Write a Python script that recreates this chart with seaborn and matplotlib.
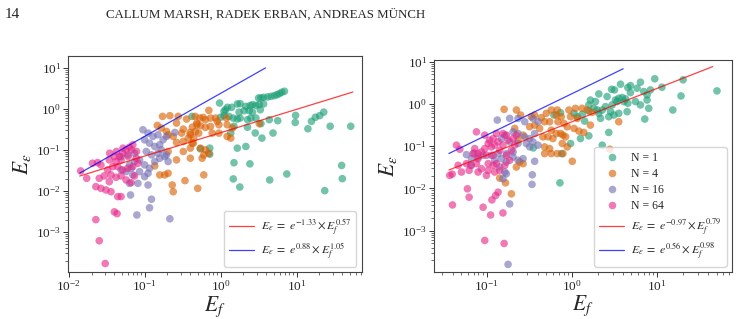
import numpy as np
import pandas as pd
import matplotlib
matplotlib.use("Agg")
import matplotlib.pyplot as plt
import seaborn as sns

# ---- data (E_f, E_eps) ----
groups = ["N = 1", "N = 4", "N = 16", "N = 64"]
colors = ["#1b9e77", "#d95f02", "#7570b3", "#e7298a"]

# left panel
left_n1_ef = [6.93, 6.39, 5.95, 5.54, 5.11, 4.61, 4.16, 3.68, 3.40, 3.16, 3.68, 3.23, 2.92, 2.63, 2.45, 2.15,
              1.81, 1.66, 1.40, 1.23, 1.16, 1.11, 0.97, 1.75, 2.04, 2.38, 2.63, 3.33, 9.70, 9.60, 5.65, 4.38,
              3.40, 2.92, 2.50, 2.26, 1.81, 1.66, 1.47, 1.29, 1.11, 1.00, 0.42, 22.8, 20.2, 17.7, 15.7, 14.1,
              27.7, 51.6, 2.86, 3.50, 4.90, 2.26, 1.50, 1.36, 1.66, 2.15, 1.50, 2.43, 1.47, 1.79, 4.43, 7.44,
              39.2, 40.0, 23.5, 0.54, 0.72, 0.72]
left_n1_ee = [2.71, 2.56, 2.37, 2.24, 2.12, 2.04, 1.97, 1.93, 1.86, 1.86, 1.33, 1.28, 1.23, 1.28, 1.21, 1.16,
              1.35, 1.33, 1.10, 1.10, 0.96, 0.88, 1.40, 0.84, 0.91, 0.91, 0.84, 0.96, 0.70, 0.47, 0.52, 0.55,
              0.44, 0.60, 0.60, 0.55, 0.60, 0.57, 0.60, 0.66, 0.69, 0.63, 0.66, 0.84, 0.69, 0.63, 0.50, 0.33,
              0.38, 0.38, 0.26, 0.195, 0.26, 0.36, 0.38, 0.26, 0.111, 0.122, 0.049, 0.046, 0.0197, 0.0125,
              0.0186, 0.026, 0.042, 0.020, 0.0102, 0.107, 0.111, 0.079]

left_n4_ef = [0.172, 0.215, 0.277, 0.263, 0.357, 0.147, 0.166, 0.194, 0.323, 0.425, 0.485, 0.307, 0.376,
              0.323, 0.263, 0.323, 0.263, 0.204, 0.136, 0.158, 0.184, 0.204, 0.340, 0.231, 0.238, 0.500,
              0.461, 0.396, 0.438, 0.238, 0.204, 0.700, 0.532, 0.589, 0.632, 0.737, 0.859, 0.903, 0.951,
              0.490, 0.543, 0.632, 0.737, 0.466, 0.515, 0.775, 0.951, 1.19, 1.22, 1.43, 1.36, 1.22, 0.400,
              0.443, 0.421, 0.543, 0.632, 0.700, 0.601, 0.571, 0.400, 0.400, 0.601, 3.23]
left_n4_ee = [0.661, 0.687, 0.661, 0.454, 0.569, 0.398, 0.343, 0.284, 0.324, 0.362, 0.454, 0.258, 0.195,
              0.162, 0.153, 0.092, 0.0574, 0.092, 0.041, 0.0247, 0.0247, 0.0271, 0.0179, 0.0140, 0.0096,
              0.0116, 0.661, 0.268, 0.147, 0.214, 0.235, 0.927, 0.602, 0.625, 0.548, 0.602, 0.602, 0.499,
              0.413, 0.413, 0.391, 0.356, 0.376, 0.284, 0.258, 0.258, 0.258, 0.602, 0.413, 0.343, 0.195,
              0.214, 0.235, 0.195, 0.147, 0.111, 0.101, 0.0836, 0.0762, 0.0631, 0.111, 0.0631, 0.0247, 0.437]

left_n16_ef = [0.0950, 0.111, 0.129, 0.150, 0.175, 0.194, 0.250, 0.100, 0.116, 0.136, 0.158, 0.105, 0.123,
               0.150, 0.166, 0.194, 0.204, 0.0859, 0.100, 0.116, 0.136, 0.0736, 0.0632, 0.0665, 0.0571,
               0.0490, 0.0700, 0.0859, 0.0601, 0.0736, 0.0490, 0.111, 0.100, 0.0632, 0.0816, 0.111, 0.0652,
               0.123, 0.116, 0.0791, 0.215, 0.184, 0.158]
left_n16_ee = [0.312, 0.258, 0.214, 0.235, 0.177, 0.214, 0.268, 0.177, 0.147, 0.122, 0.134, 0.092, 0.0762,
               0.0836, 0.101, 0.0762, 0.0523, 0.0574, 0.0434, 0.0359, 0.0523, 0.0523, 0.0434, 0.0359,
               0.0297, 0.0327, 0.0247, 0.0297, 0.0762, 0.0836, 0.0693, 0.0271, 0.0224, 0.0154, 0.0154,
               0.0140, 0.0080, 0.0063, 0.0039, 0.0026, 0.0021, 0.0693, 0.0631]

left_n64_ef = [0.0144, 0.0173, 0.0206, 0.0240, 0.0266, 0.0253, 0.0294, 0.0326, 0.0380, 0.0421, 0.0466,
               0.0515, 0.0571, 0.0632, 0.0700, 0.0443, 0.0515, 0.0601, 0.0700, 0.0816, 0.0775, 0.0343,
               0.0400, 0.0490, 0.0361, 0.0421, 0.0490, 0.0571, 0.0665, 0.0736, 0.0266, 0.0310, 0.0361,
               0.0228, 0.0343, 0.0443, 0.0490, 0.0400, 0.0434, 0.0228, 0.0253, 0.0303, 0.0347, 0.0425,
               0.052, 0.0672, 0.0783, 0.0607]
left_n64_ee = [0.0309, 0.0204, 0.0476, 0.0494, 0.0434, 0.0204, 0.0233, 0.0327, 0.0394, 0.0523, 0.0693,
               0.0836, 0.101, 0.117, 0.134, 0.0394, 0.0327, 0.0359, 0.0394, 0.0476, 0.0631, 0.0574,
               0.0693, 0.0574, 0.0247, 0.0216, 0.0233, 0.0186, 0.0160, 0.0233, 0.0116, 0.0106, 0.0096,
               0.0128, 0.0169, 0.0073, 0.0073, 0.0031, 0.0028, 0.0020, 0.00061, 0.00017, 0.0836, 0.092,
               0.111, 0.101, 0.092, 0.0693]

# right panel
right_n1_ef = [9.39, 6.38, 4.87, 4.53, 3.72, 2.92, 3.16, 2.07, 1.65, 1.89, 2.59, 3.25, 3.55, 3.89, 4.26, 4.07,
               3.40, 2.97, 2.48, 2.27, 2.07, 2.17, 2.71, 3.11, 3.55, 4.45, 2.84, 4.87, 5.83, 6.98, 7.63, 8.35,
               11.4, 5.57, 6.38, 7.98, 7.17, 4.53, 1.81, 1.58, 1.32, 1.16, 1.41, 1.58, 1.26, 0.964, 2.71,
               2.27, 19.1, 20.2, 50.5, 15.3, 7.63, 0.615, 0.736, 1.06, 1.58, 1.98, 0.723, 0.352, 0.757]
right_n1_ee = [3.94, 3.28, 2.73, 2.45, 2.94, 2.23, 2.15, 1.73, 1.24, 1.14, 1.50, 1.24, 1.36, 1.42, 1.32, 1.14,
               1.14, 0.95, 0.865, 0.720, 0.600, 0.456, 0.499, 0.547, 0.600, 0.657, 0.657, 1.86, 2.36, 1.97,
               1.64, 2.15, 2.49, 1.14, 0.95, 0.789, 0.440, 1.04, 0.789, 0.681, 0.568, 0.499, 0.394, 0.176,
               0.152, 0.116, 0.212, 0.106, 1.55, 3.73, 2.04, 0.720, 1.24, 0.547, 0.622, 0.600, 0.95, 0.720,
               0.0136, 0.0912, 0.0669]

right_n4_ef = [0.160, 0.223, 0.250, 0.334, 0.365, 0.437, 0.500, 0.573, 0.655, 0.750, 0.478, 0.547, 0.685,
               0.365, 0.319, 0.418, 0.573, 0.655, 0.524, 0.457, 0.599, 0.785, 0.478, 0.547, 0.478, 0.573,
               0.785, 0.267, 0.213, 0.233, 0.267, 0.244, 0.223, 0.142, 0.166, 0.195, 0.673, 0.922, 1.10,
               1.32, 1.51, 1.73, 0.964, 1.16, 0.806, 0.881, 1.06, 1.21, 1.38, 1.65, 3.55, 0.736, 0.843,
               0.770, 0.881, 0.673, 1.01, 2.79]
right_n4_ee = [0.746, 0.720, 0.547, 0.499, 0.547, 0.473, 0.600, 0.720, 0.547, 0.499, 0.380, 0.380, 0.380,
               0.316, 0.289, 0.264, 0.240, 0.200, 0.167, 0.167, 0.152, 0.183, 0.0964, 0.0880, 0.0669,
               0.0669, 0.0669, 0.183, 0.264, 0.139, 0.0387, 0.0424, 0.0322, 0.0176, 0.0136, 0.00747, 0.720,
               0.720, 0.789, 0.789, 0.720, 0.634, 0.499, 0.456, 0.347, 0.289, 0.264, 0.228, 0.212, 0.316,
               0.380, 0.200, 0.167, 0.116, 0.0964, 0.0669, 0.0440, 0.0849]

right_n16_ef = [0.133, 0.186, 0.233, 0.279, 0.349, 0.400, 0.365, 0.319, 0.279, 0.233, 0.204, 0.163, 0.149,
                0.186, 0.233, 0.292, 0.349, 0.400, 0.319, 0.204, 0.170, 0.136, 0.113, 0.0906, 0.0791,
                0.0661, 0.0578, 0.0649, 0.124, 0.149, 0.170, 0.204, 0.233, 0.267, 0.142, 0.170, 0.155,
                0.365, 0.343, 0.340, 0.186, 0.178, 0.163, 0.0711]
right_n16_ee = [0.416, 0.456, 0.456, 0.380, 0.456, 0.380, 0.200, 0.152, 0.167, 0.200, 0.219, 0.183, 0.152,
                0.127, 0.116, 0.116, 0.127, 0.106, 0.0964, 0.0733, 0.0669, 0.0669, 0.0611, 0.0611, 0.0557,
                0.0508, 0.0633, 0.0353, 0.0465, 0.0508, 0.0424, 0.0557, 0.0465, 0.0508, 0.0322, 0.0223,
                0.0170, 0.0440, 0.0211, 0.0125, 0.00431, 0.00016, 0.0245, 0.0694]

right_n64_ef = [0.0441, 0.0483, 0.0368, 0.0393, 0.0461, 0.0505, 0.0578, 0.0621, 0.0661, 0.0757, 0.0791,
                0.0866, 0.0991, 0.104, 0.119, 0.124, 0.142, 0.0757, 0.0948, 0.108, 0.119, 0.130, 0.136,
                0.124, 0.113, 0.104, 0.0948, 0.0866, 0.0791, 0.0991, 0.119, 0.142, 0.155, 0.178, 0.155,
                0.170, 0.204, 0.213, 0.223, 0.186, 0.163, 0.130, 0.104, 0.0791, 0.0723, 0.0692, 0.0593,
                0.0621, 0.0396, 0.0906, 0.111, 0.115, 0.127, 0.136, 0.155, 0.0948, 0.160, 0.195, 0.170]
right_n64_ee = [0.106, 0.0849, 0.0204, 0.0219, 0.0353, 0.0245, 0.0387, 0.0268, 0.0353, 0.0387, 0.0245,
                0.0294, 0.0204, 0.0268, 0.0353, 0.0245, 0.0268, 0.219, 0.183, 0.139, 0.152, 0.200, 0.127,
                0.106, 0.0964, 0.116, 0.0880, 0.0733, 0.0669, 0.0611, 0.0611, 0.0803, 0.106, 0.139, 0.200,
                0.183, 0.152, 0.106, 0.183, 0.0465, 0.0353, 0.0387, 0.0387, 0.0508, 0.0880, 0.0669, 0.00982,
                0.00622, 0.00408, 0.00360, 0.00236, 0.00537, 0.00681, 0.00818, 0.00264, 0.00059, 0.00050,
                0.0803, 0.0611]

# fitted lines: log-log fits given in the legend, E_eps = e^a * E_f^b
left_fits = [(-1.33, 0.57, [0.014, 55.0], "red"), (0.88, 1.05, [0.014, 3.9], "blue")]
right_fits = [(-0.97, 0.79, [0.036, 45.0], "red"), (0.56, 0.98, [0.036, 4.0], "blue")]


def build_frame(series):
    parts = []
    for name, (ef, ee) in zip(groups, series):
        parts.append(pd.DataFrame({"Ef": ef, "Ee": ee, "N": name}))
    return pd.concat(parts, ignore_index=True)


left_df = build_frame([(left_n1_ef, left_n1_ee), (left_n4_ef, left_n4_ee),
                       (left_n16_ef, left_n16_ee), (left_n64_ef, left_n64_ee)])
right_df = build_frame([(right_n1_ef, right_n1_ee), (right_n4_ef, right_n4_ee),
                        (right_n16_ef, right_n16_ee), (right_n64_ef, right_n64_ee)])

sns.set_style("ticks")
plt.rcParams["font.family"] = ["Liberation Serif", "DejaVu Serif"]
plt.rcParams["mathtext.fontset"] = "stix"

fig = plt.figure(figsize=(7.38, 3.19), dpi=100)
ax1 = fig.add_axes([0.0921, 0.147, 0.398, 0.677])
ax2 = fig.add_axes([0.588, 0.147, 0.404, 0.665])

palette = dict(zip(groups, colors))


def draw(ax, df, fits, show_points_legend, xlim, ylim):
    sns.scatterplot(data=df, x="Ef", y="Ee", hue="N", hue_order=groups, palette=palette,
                    s=30, alpha=0.62, linewidth=0, ax=ax, legend=show_points_legend)
    for a, b, xs, c in fits:
        xs = np.array(xs)
        ax.plot(xs, np.exp(a) * xs ** b, color=c, lw=0.9, alpha=0.75,
                label=r"$E_\varepsilon\ =\ e^{%.2f} \times E_f^{%.2f}$" % (a, b))
    ax.set_xscale("log")
    ax.set_yscale("log")
    ax.set_xlim(*xlim)
    ax.set_ylim(*ylim)
    ax.set_xlabel(r"$E_f$", fontsize=15.5)
    ax.set_ylabel(r"$E_\varepsilon$", fontsize=15.5)
    ax.xaxis.set_label_coords(0.5, -0.103)
    ax.yaxis.set_label_coords(-0.118, 0.5)
    ax.tick_params(labelsize=9.5, length=3.5, width=0.7, color="#333333", pad=1.5)
    ax.tick_params(which="minor", length=2, width=0.5, color="#333333")
    for sp in ax.spines.values():
        sp.set_color("#444444")
        sp.set_linewidth(0.8)
    ax.legend(loc="lower right", fontsize=8.5, frameon=True, framealpha=0.8,
              edgecolor="#cccccc", borderpad=0.45, labelspacing=0.34, handlelength=2.1,
              handletextpad=0.6, borderaxespad=0.45)


draw(ax1, left_df, left_fits, False, (0.0098, 72), (1.05e-4, 19.5))
draw(ax2, right_df, right_fits, True, (0.024, 76), (1.05e-4, 11.0))

fig.text(0.007, 0.953, "14", fontsize=11, va="center", ha="left")
fig.text(0.143, 0.953, "CALLUM MARSH, RADEK ERBAN, ANDREAS MÜNCH", fontsize=9.3,
         va="center", ha="left")

fig.savefig("out.png", dpi=100)
